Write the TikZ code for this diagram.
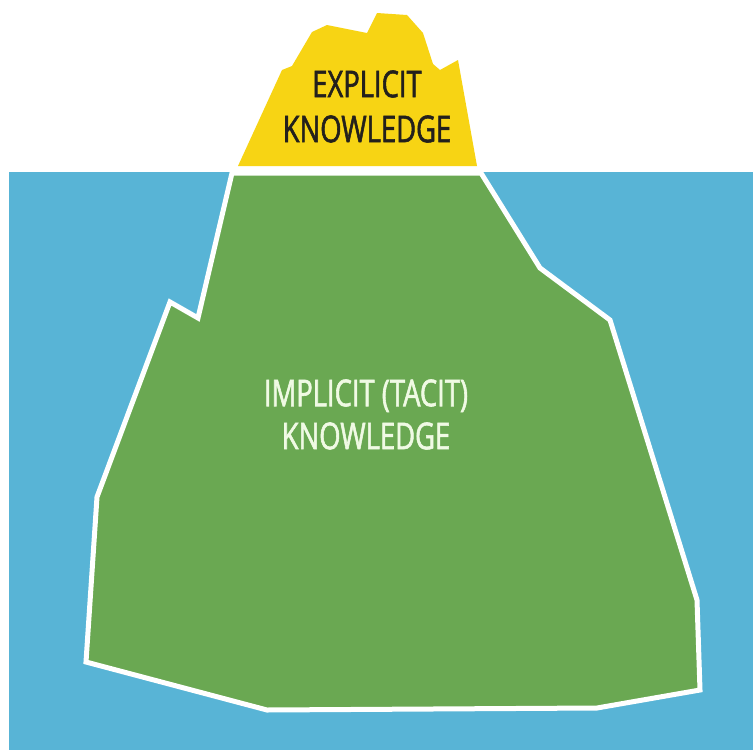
\documentclass[tikz,border=0pt]{standalone}
\usepackage{fontspec}
\newfontfamily\bergfont[FakeStretch=0.74, FakeBold=1.5]{Open Sans}
\definecolor{sea}{RGB}{88,180,214}
\definecolor{berggreen}{RGB}{106,168,82}
\definecolor{tipyellow}{RGB}{247,212,20}
\definecolor{tipink}{RGB}{35,32,28}
\definecolor{deepink}{RGB}{240,250,228}
\begin{document}
\begin{tikzpicture}[x=1pt, y=-1pt, line join=miter,
  tip text/.style={font=\bergfont\fontsize{37}{45}\selectfont, align=center, text=tipink, inner sep=0pt},
  deep text/.style={font=\bergfont\fontsize{37}{43}\selectfont, align=center, text=deepink, inner sep=0pt}]
\useasboundingbox (0,0) rectangle (753,750);
\fill[white] (0,0) rectangle (753,750);
% water
\fill[sea] (9,172) rectangle (753,750);
% tip above the water
\fill[tipyellow] (238,166) -- (282,70) -- (292,66) -- (312,32) -- (327,25) -- (367,33) -- (377,13)
  -- (407,15) -- (423,33) -- (433,64) -- (440,70) -- (458,60) -- (477,166) -- cycle;
% part under the water
\filldraw[fill=berggreen, draw=white, line width=5pt] (232,173) -- (481,173) -- (540,268) -- (610,320)
  -- (697,600) -- (700,690) -- (597,708) -- (267,710) -- (86,662) -- (97,497) -- (170,302)
  -- (198,318) -- cycle;
\node[tip text] (explicit) at (367,106.5) {EXPLICIT\\KNOWLEDGE};
\node[deep text] (implicit) at (366,414.5) {IMPLICIT (TACIT)\\KNOWLEDGE};
\end{tikzpicture}
\end{document}
